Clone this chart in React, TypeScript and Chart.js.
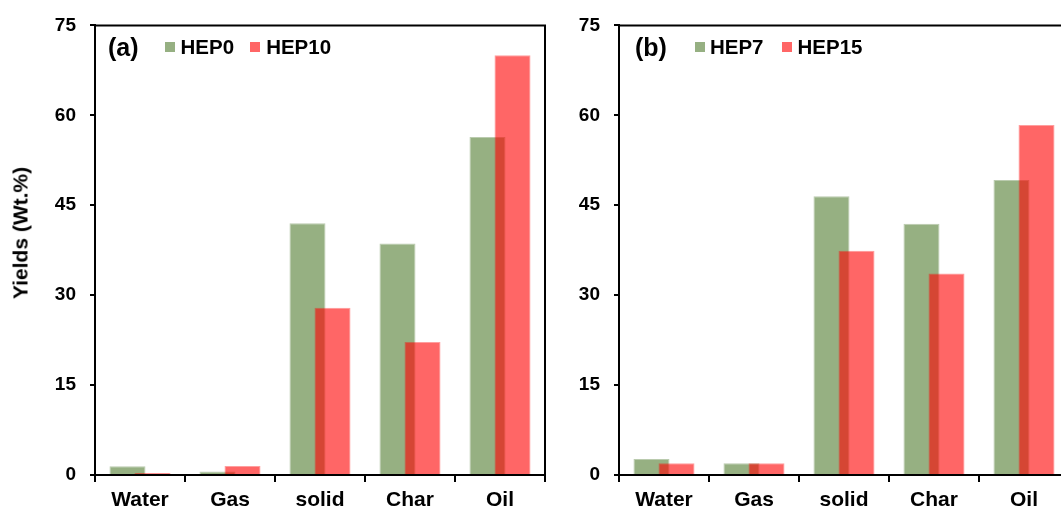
import React, { useEffect, useRef } from 'react';
import { Chart, registerables } from 'chart.js';

Chart.register(...registerables);

const FONT = '"Liberation Sans", Arial, Helvetica, sans-serif';
Chart.defaults.font.family = FONT;

// ---- data ----
const categories = ['Water', 'Gas', 'solid', 'Char', 'Oil'];
const yTicks = [0, 15, 30, 45, 60, 75];

const panelANames = ['HEP0', 'HEP10'];
const hep0 = [1.45, 0.6, 42.0, 38.6, 56.4];
const hep10 = [0.35, 1.5, 27.9, 22.2, 70.0];

const panelBNames = ['HEP7', 'HEP15'];
const hep7 = [2.65, 1.95, 46.5, 41.9, 49.2];
const hep15 = [1.95, 1.95, 37.4, 33.6, 58.4];

const yTitle = 'Yields (Wt.%)';

// ---- styles ----
const GREEN = '#96B082';
const GREEN_EDGE = '#BACBAE';
const RED = 'rgba(255,0,0,0.6)';
const RED_EDGE = 'rgba(255,0,0,0.38)';
const CANVAS_W = 575;
const CANVAS_H = 508;

type PanelProps = {
  left: number;
  tag: string;
  names: string[];
  a: number[];
  b: number[];
  legendLeft: number;
  gaps: number[];
};

function Panel({ left, tag, names, a, b, legendLeft, gaps }: PanelProps) {
  const ref = useRef<HTMLCanvasElement>(null);

  useEffect(() => {
    if (!ref.current) return;
    const orderPlugin = {
      id: 'overlapOrder',
      beforeDatasetsDraw(chart: any) {
        const { ctx, chartArea } = chart;
        ctx.save();
        ctx.beginPath();
        ctx.rect(chartArea.left, chartArea.top, chartArea.right - chartArea.left, chartArea.bottom - chartArea.top);
        ctx.clip();
        chart.data.datasets.forEach((_: any, i: number) => chart.getDatasetMeta(i).controller.draw());
        ctx.restore();
        return false;
      },
    };
    const framePlugin = {
      id: 'frame',
      afterDraw(chart: any) {
        const { ctx, chartArea } = chart;
        ctx.save();
        ctx.strokeStyle = '#000';
        ctx.lineWidth = 2;
        ctx.beginPath();
        ctx.moveTo(chartArea.left - 1, chartArea.top);
        ctx.lineTo(chartArea.right, chartArea.top);
        ctx.lineTo(chartArea.right, chartArea.bottom);
        ctx.stroke();
        ctx.restore();
      },
    };

    const chart = new Chart(ref.current, {
      type: 'bar',
      data: {
        labels: categories,
        datasets: [
          {
            label: names[0],
            data: a,
            backgroundColor: GREEN,
            borderColor: GREEN_EDGE,
            borderWidth: 1,
            categoryPercentage: 0.556,
            barPercentage: 1.44,
          },
          {
            label: names[1],
            data: b,
            backgroundColor: RED,
            borderColor: RED_EDGE,
            borderWidth: 1,
            categoryPercentage: 0.556,
            barPercentage: 1.44,
          },
        ],
      },
      options: {
        responsive: false,
        animation: false,
        layout: { padding: { top: 23, right: 30, left: 0, bottom: 0 } },
        plugins: { legend: { display: false }, tooltip: { enabled: false } },
        scales: {
          x: {
            type: 'category',
            offset: true,
            z: 1,
            grid: {
              display: true,
              offset: true,
              drawOnChartArea: false,
              drawTicks: true,
              tickLength: 7,
              color: '#000',
              lineWidth: 2,
            },
            border: { display: true, color: '#000', width: 2 },
            ticks: {
              color: '#000',
              font: { size: 21, weight: 'bold', family: FONT },
              padding: 6,
              maxRotation: 0,
              autoSkip: false,
            },
            afterFit: (s: any) => {
              s.height = 33;
            },
          },
          y: {
            min: 0,
            max: 75,
            z: 1,
            afterBuildTicks: (s: any) => {
              s.ticks = yTicks.map((v) => ({ value: v }));
            },
            grid: {
              display: true,
              drawOnChartArea: false,
              drawTicks: true,
              tickLength: 5,
              color: '#000',
              lineWidth: 2,
            },
            border: { display: true, color: '#000', width: 2 },
            ticks: {
              color: '#000',
              font: { size: 19, weight: 'bold', family: FONT },
              padding: 14,
            },
            afterFit: (s: any) => {
              s.width = 95;
            },
          },
        },
      },
      plugins: [orderPlugin, framePlugin],
    } as any);
    return () => chart.destroy();
  }, []);

  const colors = [GREEN, '#FF6666'];
  return (
    <div style={{ position: 'absolute', left, top: 0, width: CANVAS_W, height: CANVAS_H }}>
      <canvas ref={ref} width={CANVAS_W} height={CANVAS_H} style={{ display: 'block' }} />
      <div
        style={{
          position: 'absolute',
          left: legendLeft,
          top: 32,
          height: 30,
          display: 'flex',
          alignItems: 'center',
          fontFamily: FONT,
          fontWeight: 'bold',
          color: '#000',
          whiteSpace: 'nowrap',
        }}
      >
        <span style={{ fontSize: 25, lineHeight: 1, marginRight: gaps[0] }}>{tag}</span>
        {names.map((n, i) => (
          <React.Fragment key={n}>
            <span style={{ display: 'inline-block', width: 10, height: 10, background: colors[i], marginRight: gaps[1] }} />
            <span style={{ fontSize: 20.5, lineHeight: 1, marginRight: i === 0 ? gaps[2] : 0 }}>{n}</span>
          </React.Fragment>
        ))}
      </div>
    </div>
  );
}

export default function App() {
  return (
    <div
      style={{
        position: 'fixed',
        left: 0,
        top: 0,
        width: 1061,
        height: 508,
        overflow: 'hidden',
        background: '#fff',
      }}
    >
      <Panel left={0} tag="(a)" names={panelANames} a={hep0} b={hep10} legendLeft={108} gaps={[26, 6, 16]} />
      <Panel left={524} tag="(b)" names={panelBNames} a={hep7} b={hep15} legendLeft={111} gaps={[28, 5, 19]} />
      <div
        style={{
          position: 'absolute',
          left: 20,
          top: 233,
          transform: 'translate(-50%, -50%) rotate(-90deg)',
          fontFamily: FONT,
          fontWeight: 'bold',
          fontSize: 21,
          lineHeight: 1,
          whiteSpace: 'nowrap',
          color: '#000',
        }}
      >
        {yTitle}
      </div>
    </div>
  );
}
